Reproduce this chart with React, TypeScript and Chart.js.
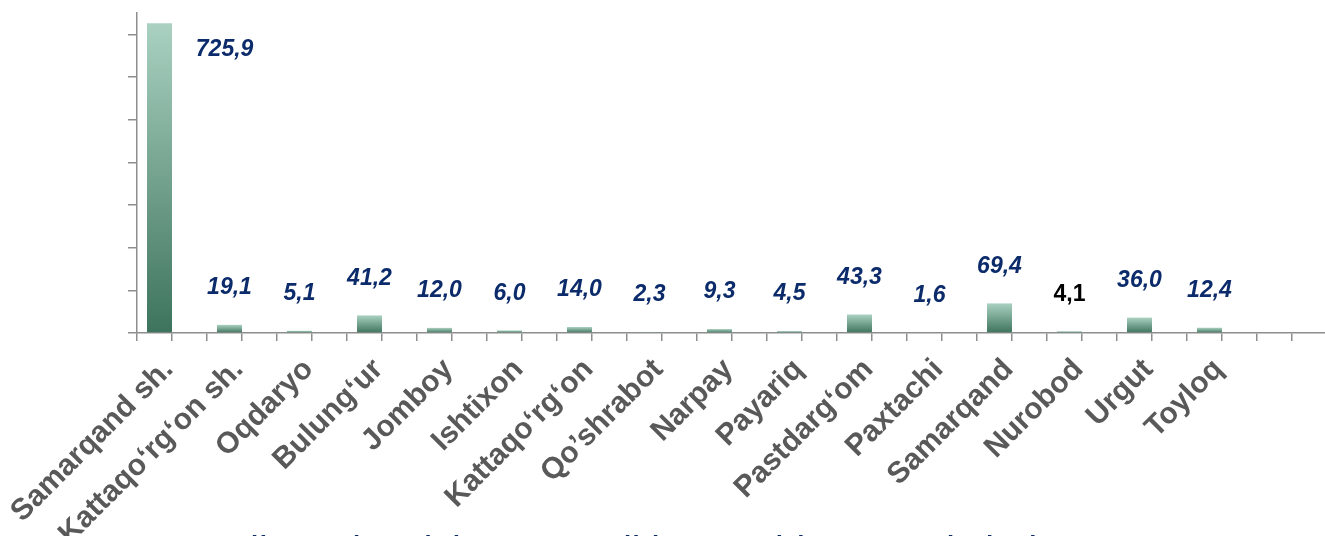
import React, { useEffect, useRef } from 'react';
import { Chart, registerables } from 'chart.js';

Chart.register(...registerables);

const categories = [
  'Samarqand sh.',
  'Kattaqo‘rg‘on sh.',
  'Oqdaryo',
  'Bulung‘ur',
  'Jomboy',
  'Ishtixon',
  'Kattaqo‘rg‘on',
  'Qo’shrabot',
  'Narpay',
  'Payariq',
  'Pastdarg‘om',
  'Paxtachi',
  'Samarqand',
  'Nurobod',
  'Urgut',
  'Toyloq',
];

const values = [725.9, 19.1, 5.1, 41.2, 12.0, 6.0, 14.0, 2.3, 9.3, 4.5, 43.3, 1.6, 69.4, 4.1, 36.0, 12.4];

const plainLabelCategories = ['Nurobod'];

const yMin = 0;
const yMax = 750;
const yStep = 100;

const titleText = 'Viloyat bo‘yicha 2024 yil iyun oyida umumiy hajm';

const FONT = '"Liberation Sans", Arial, sans-serif';
const AXIS_COLOR = '#8e8e8e';

function fmt(v: number): string {
  return v.toFixed(1).replace('.', ',');
}

export default function App() {
  const canvasRef = useRef<HTMLCanvasElement | null>(null);

  useEffect(() => {
    if (!canvasRef.current) return;

    const groupLabels = [...categories, ''];
    const slotLabels: string[] = [];
    categories.forEach((c) => {
      slotLabels.push(c, '');
    });
    slotLabels.push('', '');

    const valueLabels = {
      id: 'valueLabels',
      afterDatasetsDraw(chart: any) {
        const ctx = chart.ctx;
        const area = chart.chartArea;
        const meta = chart.getDatasetMeta(0);
        const xs = chart.scales.x;
        const slot = xs.getPixelForValue(1) - xs.getPixelForValue(0);
        meta.data.forEach((el: any, i: number) => {
          const plain = plainLabelCategories.includes(categories[i]);
          ctx.save();
          ctx.font = (plain ? 'bold ' : 'italic bold ') + '23px ' + FONT;
          ctx.fillStyle = plain ? '#000000' : '#0c2b6b';
          ctx.textAlign = 'center';
          ctx.textBaseline = 'middle';
          let x = el.x;
          let y = el.y - 37;
          if (y - 12 < area.top) {
            x = el.x + slot * 0.93;
            y = el.y + 26;
          }
          ctx.fillText(fmt(values[i]), x, y);
          ctx.restore();
        });
      },
    };

    const barFill = (c: any) => {
      const chart = c.chart;
      const ys = chart.scales && chart.scales.y;
      if (!chart.chartArea || !ys || c.type !== 'data' || c.raw == null) return '#6aa88c';
      const top = ys.getPixelForValue(c.raw);
      const base = ys.getPixelForValue(0);
      if (!isFinite(top) || !isFinite(base) || top === base) return '#6aa88c';
      const g = chart.ctx.createLinearGradient(0, top, 0, base);
      g.addColorStop(0, '#aad1c1');
      g.addColorStop(1, '#3d735c');
      return g;
    };

    const chart = new Chart(canvasRef.current, {
      type: 'bar',
      data: {
        labels: groupLabels,
        datasets: [
          {
            data: values,
            backgroundColor: barFill,
            borderWidth: 0,
            categoryPercentage: 12.5 / 17.5,
            barPercentage: 1,
          },
          {
            data: values.map(() => null),
            backgroundColor: 'rgba(0,0,0,0)',
            categoryPercentage: 12.5 / 17.5,
            barPercentage: 1,
          },
        ],
      },
      options: {
        responsive: false,
        maintainAspectRatio: false,
        animation: false,
        devicePixelRatio: 1,
        layout: { padding: { top: 13, right: 8, left: 0, bottom: 0 } },
        plugins: {
          legend: { display: false },
          tooltip: { enabled: false },
          title: { display: false },
        },
        scales: {
          x: {
            type: 'category',
            labels: groupLabels,
            display: false,
            offset: true,
          },
          x2: {
            type: 'category',
            labels: slotLabels,
            position: 'bottom',
            offset: true,
            grid: {
              offset: true,
              drawOnChartArea: false,
              drawTicks: true,
              tickLength: 8,
              color: AXIS_COLOR,
              lineWidth: 1.5,
            },
            border: { display: true, color: AXIS_COLOR, width: 1.5 },
            ticks: {
              autoSkip: false,
              maxRotation: 45,
              minRotation: 45,
              padding: 11,
              labelOffset: 14,
              color: '#595959',
              font: { family: FONT, size: 30, weight: 'bold' },
            },
            afterFit: (s: any) => {
              s.height = 203;
              s.paddingLeft = 0;
              s.paddingRight = 0;
            },
          },
          y: {
            min: yMin,
            max: yMax,
            ticks: { stepSize: yStep, display: false },
            grid: {
              drawOnChartArea: false,
              drawTicks: true,
              tickLength: 9,
              color: AXIS_COLOR,
              lineWidth: 1.5,
            },
            border: { display: true, color: AXIS_COLOR, width: 1.5 },
            afterBuildTicks: (s: any) => {
              s.ticks = s.ticks.filter((t: any) => t.value % yStep === 0);
            },
            afterFit: (s: any) => {
              s.width = 137;
            },
          },
        },
      } as any,
      plugins: [valueLabels],
    });

    return () => chart.destroy();
  }, []);

  return (
    <div
      style={{
        position: 'fixed',
        left: 0,
        top: 0,
        width: 1325,
        height: 536,
        overflow: 'hidden',
        background: '#ffffff',
      }}
    >
      <canvas ref={canvasRef} width={1335} height={536} style={{ display: 'block' }} />
      <div
        style={{
          position: 'absolute',
          left: 225,
          top: 530,
          fontFamily: FONT,
          fontSize: 39,
          lineHeight: 1,
          color: '#0c2b6b',
          whiteSpace: 'nowrap',
        }}
      >
        {titleText}
      </div>
    </div>
  );
}
